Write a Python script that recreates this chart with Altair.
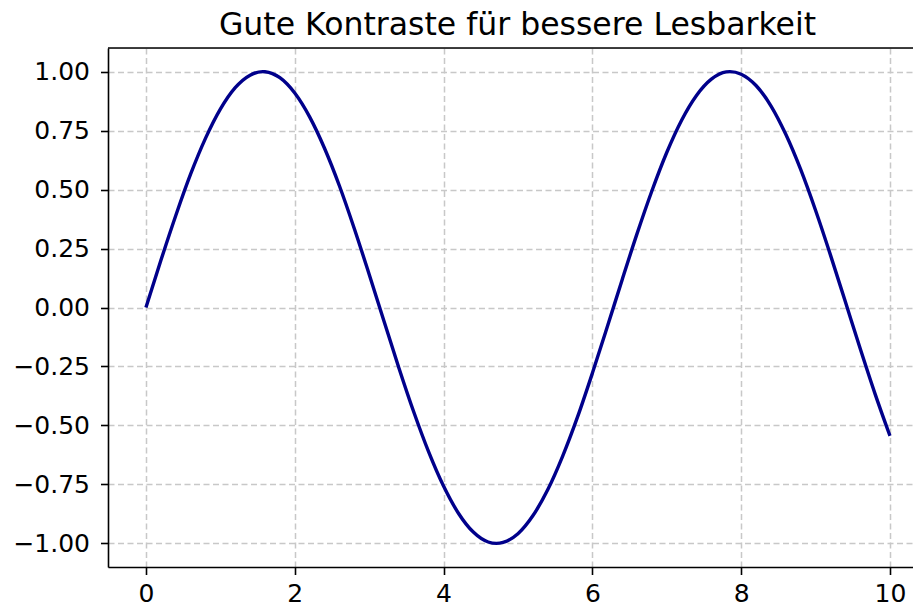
import altair as alt
import pandas as pd

x_vals = [0.0, 0.2, 0.4, 0.6, 0.8, 1.0, 1.2, 1.4, 1.57, 1.6, 1.8, 2.0, 2.2, 2.4, 2.6, 2.8, 3.0,
          3.2, 3.4, 3.6, 3.8, 4.0, 4.2, 4.4, 4.6, 4.71, 4.8, 5.0, 5.2, 5.4, 5.6, 5.8, 6.0,
          6.2, 6.4, 6.6, 6.8, 7.0, 7.2, 7.4, 7.6, 7.8, 7.85, 8.0, 8.2, 8.4, 8.6, 8.8, 9.0,
          9.2, 9.4, 9.6, 9.8, 10.0]
y_vals = [0.000, 0.199, 0.389, 0.565, 0.717, 0.841, 0.932, 0.985, 1.000, 0.9996, 0.974, 0.909,
          0.808, 0.675, 0.516, 0.335, 0.141, -0.058, -0.256, -0.443, -0.612, -0.757, -0.872,
          -0.952, -0.994, -1.000, -0.996, -0.959, -0.883, -0.773, -0.631, -0.465, -0.279,
          -0.083, 0.117, 0.312, 0.494, 0.657, 0.794, 0.899, 0.968, 0.999, 1.000, 0.989, 0.941,
          0.855, 0.734, 0.585, 0.412, 0.223, 0.025, -0.174, -0.366, -0.544]
x_ticks = [0, 2, 4, 6, 8, 10]
y_ticks = [-1.0, -0.75, -0.5, -0.25, 0.0, 0.25, 0.5, 0.75, 1.0]
title_text = "Gute Kontraste für bessere Lesbarkeit"

df = pd.DataFrame({"x": x_vals, "y": y_vals})

W, H = 805, 519
FONT = "DejaVu Sans"

xscale = alt.Scale(domain=[-0.51, 10.31], nice=False, zero=False)
yscale = alt.Scale(domain=[-1.1, 1.1], nice=False, zero=False)

common_axis = dict(
    labelFont=FONT, labelFontSize=25, labelColor="black",
    domainColor="black", domainWidth=1.6,
    tickColor="black", tickWidth=1.6, tickSize=7.5,
    grid=True, gridColor="#c8c8c8", gridWidth=1.5, gridDash=[6, 3.5],
    title=None,
)

line = alt.Chart(df).mark_line(color="#00008B", strokeWidth=3.4, interpolate="monotone").encode(
    x=alt.X("x:Q", scale=xscale,
            axis=alt.Axis(values=x_ticks, format="d", labelPadding=6.5, **common_axis)),
    y=alt.Y("y:Q", scale=yscale,
            axis=alt.Axis(values=y_ticks, format=".2f", labelPadding=11,
                          labelExpr="replace(datum.label, '-', '\u2212')", **common_axis)),
)

top_spine = alt.Chart(pd.DataFrame({"a": [0]})).mark_rule(color="black", strokeWidth=1.6).encode(
    x=alt.value(0), x2=alt.value(W), y=alt.value(0)
)

chart = alt.layer(line, top_spine).properties(
    width=W, height=H,
    autosize=alt.AutoSizeParams(type="none"),
    padding={"left": 100, "top": 40, "right": 0, "bottom": 40},
    title=alt.TitleParams(title_text, font=FONT, fontSize=31.5, fontWeight="normal",
                          color="black", anchor="middle", dx=7, offset=6),
).configure_view(stroke=None).configure(background="white")

chart.save("out.html", embed_options={"renderer": "svg", "actions": False})
